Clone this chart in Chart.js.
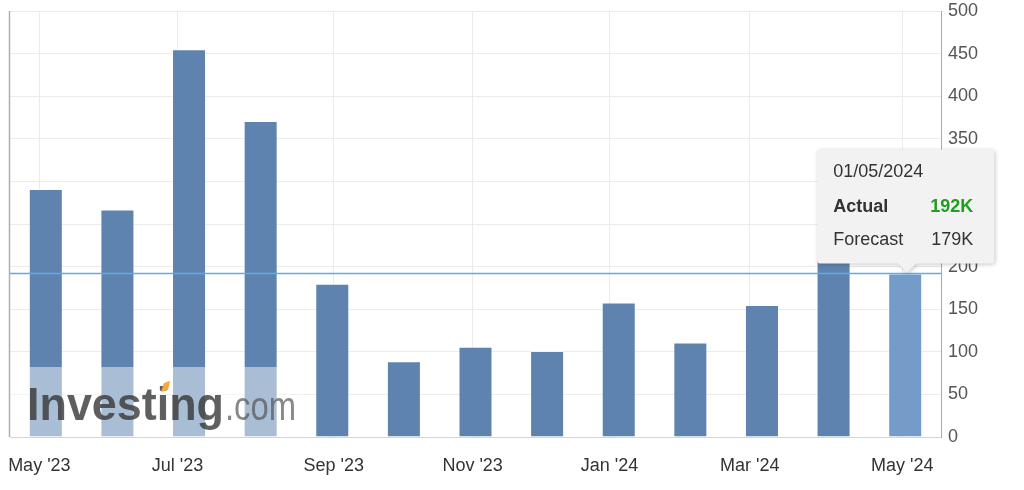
<!DOCTYPE html>
<html>
<head>
<meta charset="utf-8">
<style>
  html, body { margin: 0; padding: 0; background: #fff; }
</style>
<script src="https://cdn.jsdelivr.net/npm/chart.js"></script>
</head>
<body>
<canvas id="bar-chart" width="1024" height="490"></canvas>
<script>
var months = ["May '23", "Jun '23", "Jul '23", "Aug '23", "Sep '23", "Oct '23", "Nov '23",
              "Dec '23", "Jan '24", "Feb '24", "Mar '24", "Apr '24", "May '24"];
var actual = [291, 267, 455, 371, 180, 89, 106, 101, 158, 111, 155, 208, 192];
var tickLabels = ["May '23", "Jul '23", "Sep '23", "Nov '23", "Jan '24", "Mar '24", "May '24"];
var tickPos = [-0.09, 1.84, 4.02, 5.96, 7.87, 9.83, 11.96];
var tipDate = "01/05/2024";
var tipActual = "192K";
var tipForecast = "179K";
var lastActual = 192;

var barColors = actual.map(function(v, i) {
    return i == actual.length - 1 ? "#759cc9" : "#5d83ae";
});

var decor = {
    id: "decor",
    afterDatasetsDraw: function(chart) {
        var c = chart.ctx;
        var a = chart.chartArea;
        c.save();

        // watermark
        c.fillStyle = "rgba(255,255,255,0.47)";
        c.fillRect(a.left, a.bottom - 70, 292, 70);
        c.textBaseline = "alphabetic";
        c.font = "bold 47px Arial";
        var w1 = c.measureText("Investing").width;
        c.save();
        c.translate(27, 420);
        c.scale(197 / w1, 1);
        c.fillStyle = "rgba(55,55,55,0.8)";
        c.fillText("Investing", 0, 0);
        c.restore();
        c.font = "40px Arial";
        var w2 = c.measureText(".com").width;
        c.save();
        c.translate(225, 420);
        c.scale(71 / w2, 1);
        c.fillStyle = "rgba(85,85,85,0.7)";
        c.fillText(".com", 0, 0);
        c.restore();
        c.fillStyle = "#f5a83a";
        c.beginPath();
        c.moveTo(161, 392);
        c.lineTo(164, 383);
        c.lineTo(170, 381);
        c.lineTo(168, 390);
        c.closePath();
        c.fill();

        // left border
        c.strokeStyle = "#b0b0b0";
        c.lineWidth = 1.5;
        c.beginPath();
        c.moveTo(a.left - 0.5, a.top);
        c.lineTo(a.left - 0.5, a.bottom);
        c.stroke();

        // line at latest actual
        var ly = Math.round(chart.scales.y.getPixelForValue(lastActual)) + 0.5;
        c.strokeStyle = "#62aaea";
        c.lineWidth = 1.5;
        c.beginPath();
        c.moveTo(a.left, ly);
        c.lineTo(a.right, ly);
        c.stroke();
        c.restore();
    },
    afterDraw: function(chart) {
        var bar = chart.getDatasetMeta(0).data[actual.length - 1];
        var c = chart.ctx;
        var tipX = bar.x + 2, tipY = bar.y;
        var w = 177, h = 114, r = 3;
        var left = tipX - 90, bottom = tipY - 10, top = bottom - h, right = left + w;
        c.save();
        c.shadowColor = "rgba(0,0,0,0.22)";
        c.shadowOffsetX = 1;
        c.shadowOffsetY = 1;
        c.shadowBlur = 4;
        c.beginPath();
        c.moveTo(left + r, top);
        c.lineTo(right - r, top);
        c.quadraticCurveTo(right, top, right, top + r);
        c.lineTo(right, bottom - r);
        c.quadraticCurveTo(right, bottom, right - r, bottom);
        c.lineTo(tipX + 9, bottom);
        c.lineTo(tipX, bottom + 9);
        c.lineTo(tipX - 9, bottom);
        c.lineTo(left + r, bottom);
        c.quadraticCurveTo(left, bottom, left, bottom - r);
        c.lineTo(left, top + r);
        c.quadraticCurveTo(left, top, left + r, top);
        c.closePath();
        c.fillStyle = "#f2f2f2";
        c.fill();
        c.restore();

        c.save();
        c.textBaseline = "middle";
        c.fillStyle = "#333";
        c.font = "18px Arial";
        c.textAlign = "left";
        c.fillText(tipDate, left + 16, top + 23);
        c.font = "bold 18px Arial";
        c.fillText("Actual", left + 16, top + 58);
        c.font = "18px Arial";
        c.fillText("Forecast", left + 16, top + 91);
        c.textAlign = "right";
        c.font = "bold 18px Arial";
        c.fillStyle = "#1f9e1f";
        c.fillText(tipActual, left + 156, top + 58);
        c.font = "18px Arial";
        c.fillStyle = "#333";
        c.fillText(tipForecast, left + 156, top + 91);
        c.restore();
    }
};

var ctx = document.getElementById("bar-chart").getContext("2d");
new Chart(ctx, {
    type: "bar",
    data: {
        labels: months,
        datasets: [{
            label: "Actual",
            data: actual,
            backgroundColor: barColors,
            borderColor: "rgba(255,255,255,0.35)",
            borderWidth: 1,
            barPercentage: 0.475,
            categoryPercentage: 1,
            xAxisID: "x",
            yAxisID: "y"
        }]
    },
    options: {
        responsive: false,
        animation: false,
        events: [],
        layout: { padding: { left: 10, top: 11, right: 0, bottom: 0 } },
        plugins: {
            legend: { display: false },
            tooltip: { enabled: false }
        },
        scales: {
            x: { type: "category", display: false, offset: true },
            x2: {
                type: "linear",
                position: "bottom",
                min: -0.5,
                max: 12.5,
                offset: false,
                afterBuildTicks: function(s) {
                    s.ticks = tickPos.map(function(v) { return { value: v }; });
                },
                ticks: {
                    callback: function(v, i) { return tickLabels[i]; },
                    color: "#333",
                    font: { family: "Arial", size: 18 },
                    padding: 18,
                    maxRotation: 0,
                    autoSkip: false
                },
                grid: { color: "#ebebeb", drawTicks: false, offset: false },
                border: { color: "#ccd6eb", width: 1 },
                afterFit: function(s) {
                    s.height = 53;
                    s.paddingLeft = 0;
                    s.paddingRight = 0;
                }
            },
            y: {
                position: "right",
                min: 0,
                max: 500,
                ticks: {
                    stepSize: 50,
                    color: "#555",
                    font: { family: "Arial", size: 18 },
                    padding: 7
                },
                grid: { color: "#ebebeb", drawTicks: false },
                border: { color: "#aaa" },
                afterFit: function(s) {
                    s.width = 83;
                    s.paddingTop = 0;
                    s.paddingBottom = 0;
                }
            }
        }
    },
    plugins: [decor]
});
</script>
</body>
</html>
